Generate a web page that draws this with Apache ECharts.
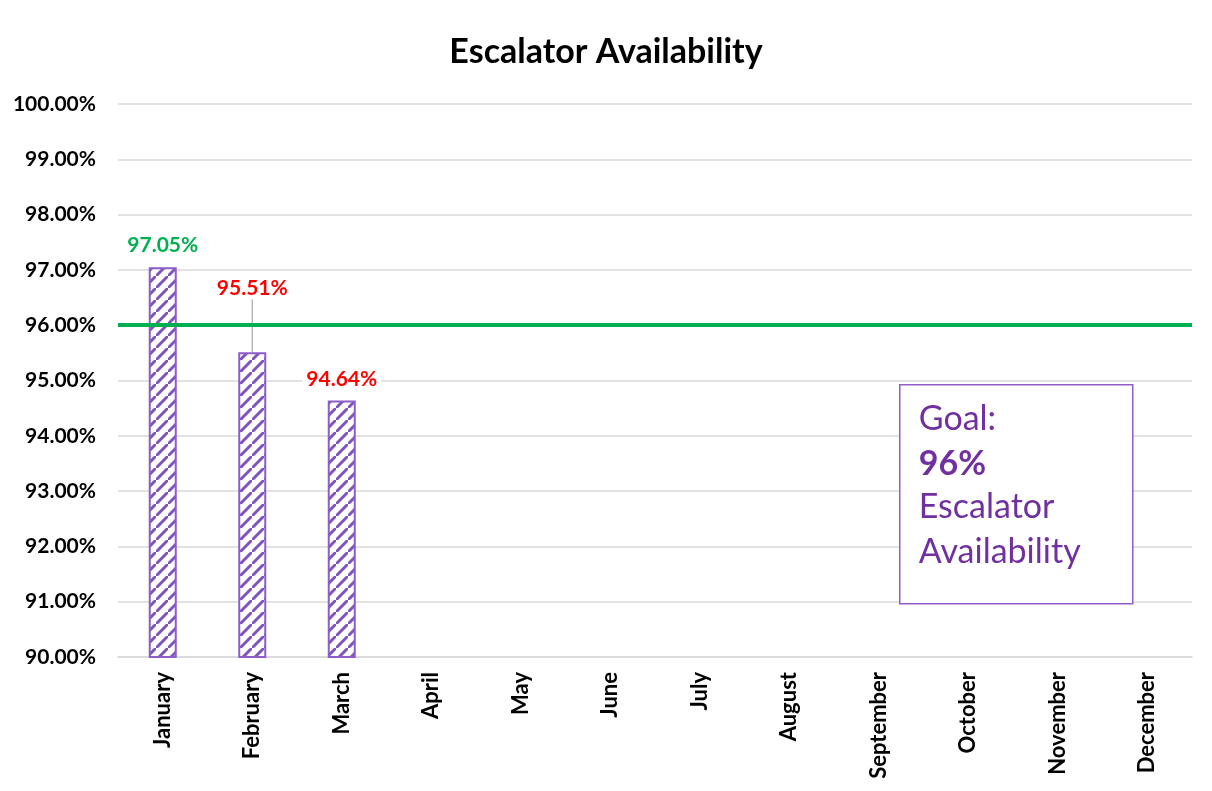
<!DOCTYPE html>
<html><head><meta charset="utf-8">
<script src="https://cdn.jsdelivr.net/npm/echarts@6/dist/echarts.min.js"></script>
<style>html,body{margin:0;padding:0;background:#fff}#c{width:1212px;height:791px}</style>
</head><body><div id="c"></div>
<script>
const months = ['January','February','March','April','May','June','July','August','September','October','November','December'];
const availability = [97.05, 95.51, 94.64];
const goal = 96;
const yTicks = {min: 90, max: 100, step: 1};
const goalText = ['Goal:', '96%', 'Escalator', 'Availability'];

const FONT = 'Lato, "Open Sans", sans-serif';
const PURPLE = '#7030A0';
const GREEN = '#00B050';
const RED = '#FF0000';
const HATCH = '#7D55BC';

// hatch pattern
const T = 12;
const tile = document.createElement('canvas');
tile.width = T; tile.height = T;
const g = tile.getContext('2d');
g.fillStyle = '#fff'; g.fillRect(0,0,T,T);
g.strokeStyle = HATCH; g.lineWidth = 3;
g.beginPath();
g.moveTo(-2,T+2); g.lineTo(T+2,-2);
g.moveTo(-T-2,2); g.lineTo(2,-T-2);
g.moveTo(T-2,2*T+2); g.lineTo(2*T+2,T-2);
g.stroke();

const barData = availability.map((v, i) => ({
  value: v,
  label: {color: v >= goal ? GREEN : RED},
  labelLine: {show: i === 1}
}));

const chart = echarts.init(document.getElementById('c'), null, {renderer: 'canvas'});
chart.setOption({
  animation: false,
  backgroundColor: '#fff',
  title: {
    text: 'Escalator Availability', left: 'center', top: 30,
    textStyle: {fontFamily: FONT, fontSize: 34, fontWeight: 'bold', color: '#000'}
  },
  grid: {left: 118, right: 20, top: 104, bottom: 134, containLabel: false},
  xAxis: {
    type: 'category', data: months,
    axisLine: {lineStyle: {color: '#d9d9d9', width: 1.5}},
    axisTick: {show: false},
    axisLabel: {rotate: 90, margin: 15, fontFamily: FONT, fontSize: 22, fontWeight: 'bold', color: '#000', interval: 0}
  },
  yAxis: {
    type: 'value', min: yTicks.min, max: yTicks.max, interval: yTicks.step,
    axisLine: {show: false}, axisTick: {show: false},
    splitLine: {lineStyle: {color: '#d9d9d9', width: 1.5}},
    axisLabel: {margin: 22, fontFamily: FONT, fontSize: 21, fontWeight: 'bold', color: '#000',
      formatter: v => v.toFixed(2) + '%'}
  },
  series: [{
    type: 'bar', data: barData, barWidth: 28,
    itemStyle: {color: {image: tile, repeat: 'repeat'}, borderColor: '#8E5CC8', borderWidth: 2},
    label: {show: true, position: 'top', distance: 10, fontFamily: FONT, fontSize: 21, fontWeight: 'bold',
      formatter: p => p.value.toFixed(2) + '%', backgroundColor: '#fff', padding: [1, 4]},
    labelLine: {show: false, lineStyle: {color: '#a6a6a6', width: 1.2}},
    labelLayout: function (params) {
      if (params.dataIndex === 1) return {dy: -43};
      return {};
    },
    markLine: {
      silent: true, symbol: 'none', label: {show: false},
      lineStyle: {color: GREEN, width: 4, type: 'solid'},
      data: [{yAxis: goal}]
    },
    z: 2
  }],
  graphic: [{
    type: 'group', left: 899, top: 384, z: 100,
    children: [
      {type: 'rect', z: 100, shape: {x: 0, y: 0, width: 233, height: 219},
        style: {fill: '#fff', stroke: '#8F5CC8', lineWidth: 1.5}},
      {type: 'text', z: 101, style: {x: 19, y: 34, verticalAlign: 'middle', text: goalText[0], font: '34px ' + FONT, fill: PURPLE}},
      {type: 'text', z: 101, style: {x: 19, y: 79, verticalAlign: 'middle', text: goalText[1], font: 'bold 34px ' + FONT, fill: PURPLE}},
      {type: 'text', z: 101, style: {x: 19, y: 122, verticalAlign: 'middle', text: goalText[2], font: '34px ' + FONT, fill: PURPLE}},
      {type: 'text', z: 101, style: {x: 19, y: 167, verticalAlign: 'middle', text: goalText[3], font: '34px ' + FONT, fill: PURPLE}}
    ]
  }]
});
</script></body></html>
